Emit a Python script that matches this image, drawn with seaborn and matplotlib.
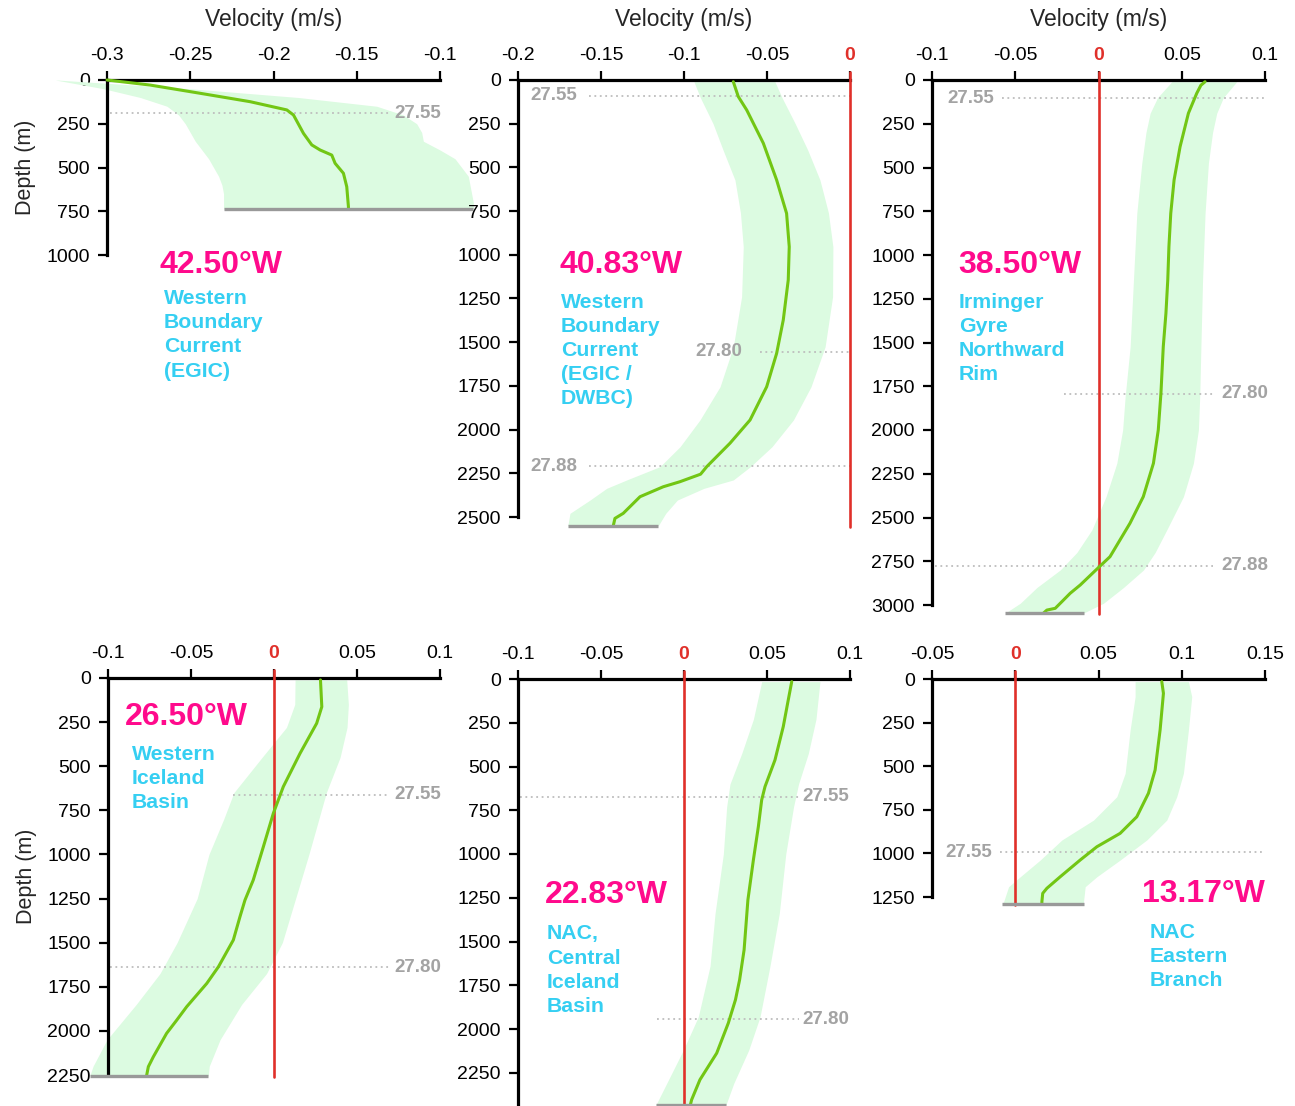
import numpy as np
import matplotlib
matplotlib.use("Agg")
import matplotlib.pyplot as plt
import seaborn as sns

# ---------------- data ----------------
# 42.50W
p1_depth = [0, 29, 76, 124, 171, 200, 305, 371, 400, 429, 476, 533, 610, 724, 738]
p1_vel = [-0.300, -0.274, -0.244, -0.214, -0.192, -0.188, -0.182, -0.177, -0.172,
          -0.165, -0.163, -0.158, -0.156, -0.155, -0.155]
p1_band_depth = [0, 50, 100, 150, 200, 250, 300, 350, 400, 450, 500, 550, 600, 650, 700, 738]
p1_lo = [-0.331, -0.302, -0.280, -0.264, -0.257, -0.253, -0.250, -0.247, -0.243,
         -0.239, -0.236, -0.233, -0.231, -0.230, -0.230, -0.230]
p1_hi = [-0.330, -0.250, -0.185, -0.138, -0.122, -0.114, -0.111, -0.110, -0.100,
         -0.091, -0.087, -0.083, -0.082, -0.081, -0.080, -0.080]

# 40.83W
p2_depth = [10, 95, 172, 362, 572, 763, 954, 1144, 1373, 1564, 1755, 1945, 2078, 2212,
            2255, 2298, 2327, 2384, 2479, 2508, 2550]
p2_vel = [-0.0703, -0.0673, -0.0622, -0.0522, -0.0442, -0.0382, -0.0366, -0.0372, -0.0402,
          -0.0442, -0.0502, -0.0602, -0.0723, -0.0863, -0.0900, -0.1024, -0.1125, -0.1265,
          -0.1366, -0.1416, -0.1426]
p2_band_depth = [10, 100, 250, 400, 572, 760, 954, 1240, 1526, 1755, 1945, 2098, 2212, 2288,
                 2336, 2403, 2479, 2550]
p2_lo = [-0.0940, -0.0902, -0.0825, -0.0765, -0.0693, -0.0660, -0.0643, -0.0653, -0.0703,
         -0.0783, -0.0904, -0.1024, -0.1145, -0.1345, -0.1466, -0.1566, -0.1687, -0.1700]
p2_hi = [-0.0452, -0.0410, -0.0330, -0.0255, -0.0181, -0.0130, -0.0103, -0.0105, -0.0150,
         -0.0235, -0.0341, -0.0470, -0.0600, -0.0703, -0.0880, -0.1040, -0.1110, -0.1155]

# 38.50W
p3_depth = [10, 30, 76, 190, 381, 571, 762, 952, 1143, 1333, 1524, 1790, 2000, 2190, 2381,
            2533, 2724, 2786, 2886, 2933, 2981, 3019, 3029, 3046]
p3_vel = [0.064, 0.0615, 0.059, 0.054, 0.049, 0.0454, 0.0434, 0.0423, 0.0416, 0.0405,
          0.0389, 0.0375, 0.0359, 0.0330, 0.0269, 0.0189, 0.0069, 0.0, -0.011, -0.017,
          -0.022, -0.026, -0.031, -0.033]
p3_band_depth = [10, 100, 190, 300, 476, 762, 1143, 1524, 1810, 2000, 2190, 2381, 2571,
                 2700, 2800, 2900, 2990, 3046]
p3_lo = [0.044, 0.0355, 0.031, 0.0285, 0.026, 0.023, 0.021, 0.019, 0.016, 0.0145, 0.011,
         0.0045, -0.004, -0.013, -0.023, -0.037, -0.047, -0.056]
p3_hi = [0.083, 0.075, 0.071, 0.0685, 0.066, 0.064, 0.0625, 0.0615, 0.0608, 0.060, 0.057,
         0.051, 0.041, 0.034, 0.027, 0.015, 0.003, -0.009]

# 26.50W
p4_depth = [11, 163, 257, 427, 616, 767, 956, 1145, 1259, 1353, 1485, 1637, 1731, 1863,
            1939, 2014, 2147, 2203, 2251]
p4_vel = [0.028, 0.0288, 0.0257, 0.0157, 0.0056, -0.0004, -0.0064, -0.0125, -0.0175,
          -0.0205, -0.0245, -0.0335, -0.0405, -0.0526, -0.0586, -0.0647, -0.0727, -0.0757,
          -0.0767]
p4_band_depth = [11, 150, 280, 450, 650, 800, 1000, 1250, 1500, 1675, 1850, 2050, 2200, 2255]
p4_lo = [0.0127, 0.0125, 0.0075, -0.0072, -0.0242, -0.0303, -0.0392, -0.0463, -0.0584,
         -0.0687, -0.0830, -0.1006, -0.1090, -0.1110]
p4_hi = [0.0438, 0.0448, 0.0440, 0.0398, 0.0315, 0.0270, 0.0210, 0.0130, 0.0050, -0.0045,
         -0.0195, -0.0325, -0.0390, -0.0396]

# 22.83W
p5_depth = [15, 120, 272, 463, 615, 691, 843, 1034, 1262, 1548, 1719, 1833, 1966, 2138,
            2290, 2404, 2435]
p5_vel = [0.0649, 0.0628, 0.0598, 0.0548, 0.0488, 0.0468, 0.0448, 0.0418, 0.0385, 0.0362,
          0.0335, 0.0310, 0.0267, 0.0197, 0.0096, 0.0046, 0.0038]
p5_band_depth = [15, 230, 425, 600, 730, 1000, 1340, 1640, 1930, 2120, 2310, 2435]
p5_lo = [0.0468, 0.0418, 0.0348, 0.0277, 0.0257, 0.0237, 0.0187, 0.0157, 0.0086, -0.0004,
         -0.0104, -0.0170]
p5_hi = [0.0819, 0.0795, 0.0749, 0.0690, 0.0660, 0.0613, 0.0574, 0.0518, 0.0458, 0.0390,
         0.0300, 0.0252]

# 13.17W
p6_depth = [15, 82, 292, 522, 655, 790, 885, 962, 1038, 1134, 1200, 1229, 1277, 1290]
p6_vel = [0.088, 0.089, 0.087, 0.084, 0.080, 0.073, 0.063, 0.049, 0.039, 0.027, 0.019,
          0.0165, 0.016, 0.016]
p6_band_depth = [15, 101, 292, 541, 675, 809, 923, 1038, 1134, 1191, 1277, 1290]
p6_lo = [0.072, 0.072, 0.069, 0.066, 0.061, 0.047, 0.028, 0.015, 0.003, -0.004, -0.007, -0.008]
p6_hi = [0.104, 0.106, 0.104, 0.101, 0.097, 0.091, 0.079, 0.063, 0.049, 0.042, 0.041, 0.041]

titles = ["42.50°W", "40.83°W", "38.50°W", "26.50°W", "22.83°W", "13.17°W"]
descriptions = [
    ["Western", "Boundary", "Current", "(EGIC)"],
    ["Western", "Boundary", "Current", "(EGIC /", "DWBC)"],
    ["Irminger", "Gyre", "Northward", "Rim"],
    ["Western", "Iceland", "Basin"],
    ["NAC,", "Central", "Iceland", "Basin"],
    ["NAC", "Eastern", "Branch"],
]
# isopycnal depths (m) and sigma labels per panel
iso_depths = [[189], [91, 1554, 2211], [103, 1794, 2777], [663, 1638], [674, 1943], [992]]
iso_labels = [["27.55"], ["27.55", "27.80", "27.88"], ["27.55", "27.80", "27.88"],
              ["27.55", "27.80"], ["27.55", "27.80"], ["27.55"]]

# ---------------- layout ----------------
W, H = 1295, 1106
GREEN = "#72C614"
BAND = "#DCFBE1"
RED = "#E0302A"
PINK = "#FF0A8C"
CYAN = "#35CFF2"
GREY_ISO = "#BDBDBD"
GREY_TXT = "#A3A3A3"

layout = [
    # rect px (left, top, w, h), xlim, tick step, ylim, last depth tick,
    # isopycnal line spans (x0, x1, label side, gap px), title (x, baseline, ha),
    # description (x, first baseline)
    dict(rect=(107, 80, 333, 175), xlim=(-0.3, -0.1), step=0.05, ylim=1000, ymaxtick=1000,
         iso=[(-0.298, -0.130, "right", 4)], title=(160, 273, "left"), desc=(164, 304.5),
         ylabel=True),
    dict(rect=(518, 80, 332, 437), xlim=(-0.2, 0.0), step=0.05, ylim=2500, ymaxtick=2500,
         iso=[(-0.157, 0.0, "left", 12), (-0.054, 0.0, "left", 18), (-0.157, 0.0, "left", 12)],
         title=(560, 273, "left"), desc=(561, 308.5), ylabel=False),
    dict(rect=(932, 80, 333, 525), xlim=(-0.1, 0.1), step=0.05, ylim=3000, ymaxtick=3000,
         iso=[(-0.058, 0.101, "left", 8), (-0.021, 0.069, "right", 8),
              (-0.098, 0.069, "right", 8)],
         title=(958, 273, "left"), desc=(959, 308.5), ylabel=False),
    dict(rect=(108, 678, 332, 397), xlim=(-0.1, 0.1), step=0.05, ylim=2250, ymaxtick=2250,
         iso=[(-0.025, 0.069, "right", 6), (-0.099, 0.069, "right", 6)],
         title=(125, 725, "left"), desc=(132, 760.5), ylabel=True),
    dict(rect=(518, 679, 332, 427), xlim=(-0.1, 0.1), step=0.05, ylim=2440, ymaxtick=2250,
         iso=[(-0.099, 0.069, "right", 4), (-0.016, 0.069, "right", 4)],
         title=(545, 903, "left"), desc=(547, 939.5), ylabel=False),
    dict(rect=(932, 679, 333, 218), xlim=(-0.05, 0.15), step=0.05, ylim=1250, ymaxtick=1250,
         iso=[(-0.009, 0.150, "left", 8)], title=(1265, 902, "right"), desc=(1150, 938.5),
         ylabel=False),
]

profiles = [
    (p1_depth, p1_vel, p1_band_depth, p1_lo, p1_hi),
    (p2_depth, p2_vel, p2_band_depth, p2_lo, p2_hi),
    (p3_depth, p3_vel, p3_band_depth, p3_lo, p3_hi),
    (p4_depth, p4_vel, p4_band_depth, p4_lo, p4_hi),
    (p5_depth, p5_vel, p5_band_depth, p5_lo, p5_hi),
    (p6_depth, p6_vel, p6_band_depth, p6_lo, p6_hi),
]

sns.set_theme(style="white")
plt.rcParams['font.family'] = ['Liberation Sans', 'DejaVu Sans']

fig = plt.figure(figsize=(W / 100, H / 100), dpi=100)


def rect_to_fig(left, top, w, h):
    return [left / W, 1 - (top + h) / H, w / W, h / H]


for i, (lay, prof) in enumerate(zip(layout, profiles)):
    depth, vel, bd, lo, hi = prof
    ax = fig.add_axes(rect_to_fig(*lay["rect"]))
    ax.set_facecolor("none")

    # uncertainty band
    ax.fill_betweenx(bd, lo, hi, color=BAND, lw=0, clip_on=False, zorder=1)

    # isopycnals
    px_per_m = lay["rect"][3] / lay["ylim"]
    for d, lab, (x0, x1, side, gap) in zip(iso_depths[i], iso_labels[i], lay["iso"]):
        ax.plot([x0, x1], [d, d], color=GREY_ISO, lw=1.3, ls=(0, (1, 2)),
                clip_on=False, zorder=2)
        if side == "right":
            ax.annotate(lab, (x1, d), xytext=(gap * 0.72, 0), textcoords="offset points",
                        ha="left", va="center", color=GREY_TXT, fontsize=13.5,
                        fontweight="bold", annotation_clip=False)
        else:
            ax.annotate(lab, (x0, d), xytext=(-gap * 0.72, 0), textcoords="offset points",
                        ha="right", va="center", color=GREY_TXT, fontsize=13.5,
                        fontweight="bold", annotation_clip=False)

    # zero reference line
    if lay["xlim"][0] < 0 <= lay["xlim"][1] and i > 0:
        ax.plot([0, 0], [-8 / px_per_m, bd[-1] + 8], color=RED, lw=1.9,
                clip_on=False, zorder=3)

    # mean velocity profile
    sns.lineplot(x=vel, y=depth, orient="y", sort=False, estimator=None, ax=ax,
                 color=GREEN, lw=2.2, clip_on=False, zorder=4)

    # bottom
    ax.plot([lo[-1], hi[-1]], [bd[-1], bd[-1]], color="#999999", lw=2.4,
            solid_capstyle="butt", clip_on=False, zorder=5)

    # axes styling
    ax.set_xlim(*lay["xlim"])
    ax.set_ylim(lay["ylim"], 0)
    xt = np.round(np.arange(lay["xlim"][0], lay["xlim"][1] + 1e-9, lay["step"]), 3)
    ax.set_xticks(xt)
    ax.set_xticklabels([f"{v:g}" if abs(v) > 1e-9 else "0" for v in xt])
    yt = np.arange(0, lay["ymaxtick"] + 1, 250)
    ax.set_yticks(yt)
    ax.set_yticklabels([str(int(v)) for v in yt])
    ax.xaxis.tick_top()
    ax.tick_params(axis="both", direction="out", length=6.5, width=1.6, color="black",
                   labelsize=14, labelcolor="black", top=True, labeltop=True,
                   bottom=False, labelbottom=False, left=True, right=False)
    ax.tick_params(axis="x", pad=5)
    ax.tick_params(axis="y", pad=6)
    for lbl in ax.get_xticklabels():
        if lbl.get_text() == "0":
            lbl.set_color(RED)
            lbl.set_fontweight("bold")
    for side in ["bottom", "right"]:
        ax.spines[side].set_visible(False)
    for side in ["top", "left"]:
        ax.spines[side].set_visible(True)
        ax.spines[side].set_color("black")
        ax.spines[side].set_linewidth(2.3)
    ax.grid(False)
    ax.set_xlabel("")
    ax.set_ylabel("")
    if i < 3:
        ax.xaxis.set_label_position("top")
        ax.set_xlabel("Velocity (m/s)", fontsize=16.5, labelpad=15)
    if lay["ylabel"]:
        ax.set_ylabel("Depth (m)", fontsize=15.5, labelpad=7)

    # annotations
    tx, ty, tha = lay["title"]
    fig.text(tx / W, 1 - ty / H, titles[i], color=PINK, fontsize=23, fontweight="bold",
             ha=tha, va="baseline")
    dx, dy = lay["desc"]
    for k, line in enumerate(descriptions[i]):
        fig.text(dx / W, 1 - (dy + 24 * k) / H, line, color=CYAN, fontsize=15.3,
                 fontweight="bold", ha="left", va="baseline")

fig.savefig("out.png", dpi=100)
